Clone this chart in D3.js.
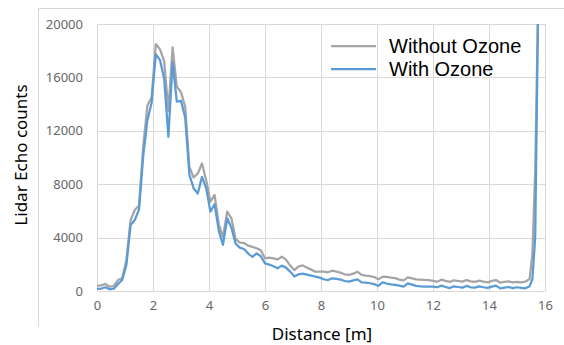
<!DOCTYPE html>
<html>
<head>
<meta charset="utf-8">
<script src="https://cdn.jsdelivr.net/npm/d3@7"></script>
<style>
  body { margin: 0; background: #fff; }
  svg { display: block; font-family: "Noto Sans", sans-serif; }
</style>
</head>
<body>
<svg id="chart" width="564" height="345"></svg>
<script>
// distance [m] of each sample
const distance = [
  0, 0.15, 0.3, 0.45, 0.6, 0.75, 0.9, 1.05, 1.2, 1.35,
  1.5, 1.65, 1.8, 1.95, 2.1, 2.25, 2.4, 2.55, 2.7, 2.85,
  3.0, 3.15, 3.3, 3.45, 3.6, 3.75, 3.9, 4.05, 4.2, 4.35,
  4.5, 4.65, 4.8, 4.95, 5.1, 5.25, 5.4, 5.55, 5.7, 5.85,
  6.0, 6.15, 6.3, 6.45, 6.6, 6.75, 6.9, 7.05, 7.2, 7.35,
  7.5, 7.65, 7.8, 7.95, 8.1, 8.25, 8.4, 8.55, 8.7, 8.85,
  9.0, 9.15, 9.3, 9.45, 9.6, 9.75, 9.9, 10.05, 10.2, 10.35,
  10.5, 10.65, 10.8, 10.95, 11.1, 11.25, 11.4, 11.55, 11.7, 11.85,
  12.0, 12.15, 12.3, 12.45, 12.6, 12.75, 12.9, 13.05, 13.2, 13.35,
  13.5, 13.65, 13.8, 13.95, 14.1, 14.25, 14.4, 14.55, 14.7, 14.85,
  15.0, 15.15, 15.3, 15.45, 15.55, 15.65, 15.75
];

const withoutOzone = [
  375, 420, 525, 320, 375, 820, 950, 2320, 5320, 6070,
  6400, 10800, 13900, 14500, 18500, 18100, 17200, 13500, 18250, 15300,
  14900, 13800, 9300, 8500, 8800, 9550, 8300, 6700, 7200, 5000,
  4050, 5950, 5450, 3900, 3620, 3600, 3400, 3300, 3200, 3050,
  2450, 2500, 2450, 2370, 2570, 2350, 1900, 1570, 1850, 1920,
  1750, 1600, 1450, 1450, 1450, 1400, 1520, 1450, 1370, 1250,
  1200, 1300, 1450, 1200, 1150, 1120, 1050, 870, 1070, 1050,
  1000, 960, 850, 800, 1020, 950, 870, 850, 830, 820,
  760, 700, 850, 760, 680, 800, 750, 700, 820, 720,
  680, 780, 700, 650, 760, 820, 620, 680, 720, 650,
  680, 640, 700, 900, 2800, 9000, 21000
];

const withOzone = [
  150, 180, 280, 130, 175, 525, 820, 1950, 4940, 5320,
  6100, 10100, 12800, 14100, 17750, 17300, 15900, 11550, 17150, 14180,
  14250, 13000, 8700, 7700, 7300, 8550, 7700, 5950, 6500, 4500,
  3450, 5450, 4750, 3550, 3250, 3150, 2800, 2550, 2820, 2600,
  2070, 1980, 1850, 1700, 1900, 1750, 1450, 1080, 1250, 1300,
  1220, 1150, 1080, 1000, 880, 820, 950, 900, 850, 750,
  700, 800, 870, 650, 620, 580, 520, 380, 640, 560,
  500, 460, 400, 330, 570, 480, 380, 350, 330, 320,
  330, 280, 400, 300, 220, 350, 300, 250, 380, 280,
  250, 350, 280, 230, 330, 400, 200, 250, 300, 220,
  280, 230, 200, 350, 900, 4000, 20500
];

const xTicks = [0, 2, 4, 6, 8, 10, 12, 14, 16];
const yTicks = [0, 4000, 8000, 12000, 16000, 20000];

const series = [
  { name: "Without Ozone", values: withoutOzone, color: "#a5a5a5" },
  { name: "With Ozone", values: withOzone, color: "#5b9bd5" }
];

const svg = d3.select("#chart");
const plot = { left: 97, right: 545, top: 24, bottom: 291 };

const x = d3.scaleLinear().domain([0, 16]).range([plot.left, plot.right]);
const y = d3.scaleLinear().domain([0, 20000]).range([plot.bottom, plot.top]);

// chart area frame (only top and left visible)
svg.append("path")
  .attr("d", "M38.5,327 V8.5 H564")
  .attr("fill", "none")
  .attr("stroke", "#d9d9d9")
  .attr("stroke-width", 1);

// gridlines
svg.append("g")
  .selectAll("line.vg")
  .data(xTicks)
  .join("line")
  .attr("x1", d => Math.round(x(d)) + 0.5)
  .attr("x2", d => Math.round(x(d)) + 0.5)
  .attr("y1", plot.top)
  .attr("y2", plot.bottom)
  .attr("stroke", "#d9d9d9");

svg.append("g")
  .selectAll("line.hg")
  .data(yTicks)
  .join("line")
  .attr("x1", plot.left)
  .attr("x2", plot.right)
  .attr("y1", d => Math.round(y(d)) + 0.5)
  .attr("y2", d => Math.round(y(d)) + 0.5)
  .attr("stroke", "#d9d9d9");

// axes (text only, Excel style)
const xAxis = svg.append("g")
  .attr("transform", `translate(0,${plot.bottom})`)
  .call(d3.axisBottom(x).tickValues(xTicks).tickSize(0).tickPadding(10));
const yAxis = svg.append("g")
  .attr("transform", `translate(${plot.left},0)`)
  .call(d3.axisLeft(y).tickValues(yTicks).tickSize(0).tickPadding(14).tickFormat(d3.format("d")));

[xAxis, yAxis].forEach(a => {
  a.select(".domain").remove();
  a.selectAll("text")
    .attr("fill", "#666")
    .style("font-size", "13px")
    .style("font-family", "'Noto Sans', sans-serif");
});

// lines
svg.append("clipPath").attr("id", "clip")
  .append("rect")
  .attr("x", plot.left).attr("y", plot.top)
  .attr("width", plot.right - plot.left).attr("height", plot.bottom - plot.top);

const line = d3.line()
  .x((d, i) => x(distance[i]))
  .y(d => y(d));

svg.append("g").attr("clip-path", "url(#clip)")
  .selectAll("path")
  .data(series)
  .join("path")
  .attr("d", d => line(d.values))
  .attr("fill", "none")
  .attr("stroke", d => d.color)
  .attr("stroke-width", 2.25)
  .attr("stroke-linejoin", "round");

// axis titles
svg.append("text")
  .attr("x", 322)
  .attr("y", 340)
  .attr("text-anchor", "middle")
  .style("font-size", "17px")
  .attr("fill", "#000")
  .text("Distance [m]");

svg.append("text")
  .attr("transform", "translate(27,155) rotate(-90)")
  .attr("text-anchor", "middle")
  .style("font-size", "17px")
  .attr("fill", "#000")
  .text("Lidar Echo counts");

// legend
const legend = svg.append("g")
  .selectAll("g")
  .data(series)
  .join("g")
  .attr("transform", (d, i) => `translate(331,${46 + i * 23})`);

legend.append("line")
  .attr("x1", 0).attr("x2", 45)
  .attr("stroke", d => d.color)
  .attr("stroke-width", 2.25);

legend.append("text")
  .attr("x", 58)
  .attr("y", 7)
  .style("font-size", "20px")
  .style("font-family", "'Liberation Sans', sans-serif")
  .attr("fill", "#000")
  .text(d => d.name);
</script>
</body>
</html>
